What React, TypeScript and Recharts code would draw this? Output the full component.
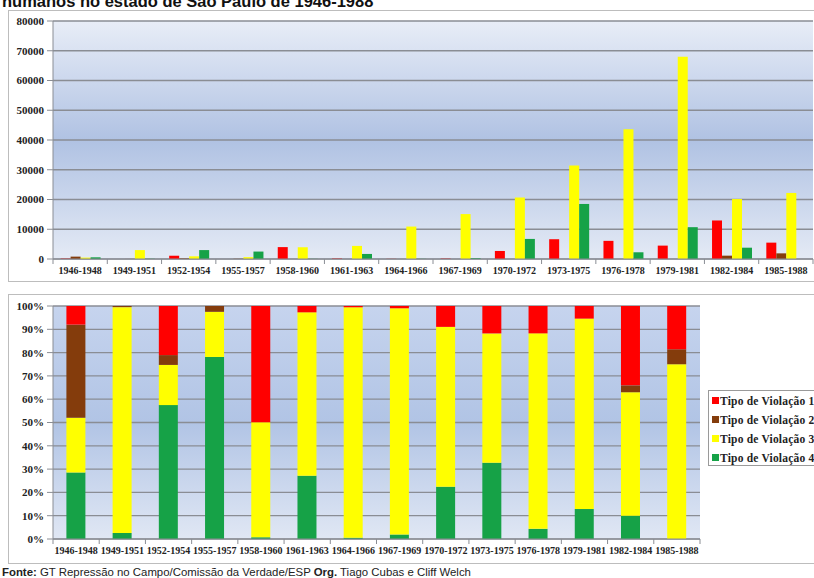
import React from 'react';
import { BarChart, Bar, XAxis, YAxis, CartesianGrid } from 'recharts';

const periods = [
  '1946-1948', '1949-1951', '1952-1954', '1955-1957', '1958-1960', '1961-1963', '1964-1966',
  '1967-1969', '1970-1972', '1973-1975', '1976-1978', '1979-1981', '1982-1984', '1985-1988'
];

// occurrences per type of violation
const tipo1 = [160, 0, 1100, 0, 4000, 170, 60, 150, 2700, 6650, 6100, 4500, 12950, 5500];
const tipo2 = [800, 15, 220, 80, 0, 0, 0, 0, 0, 0, 0, 0, 1120, 1900];
const tipo3 = [470, 3000, 900, 620, 3950, 4400, 10900, 15100, 20700, 31400, 43600, 68000, 20150, 22200];
const tipo4 = [570, 80, 3000, 2500, 60, 1700, 60, 300, 6750, 18500, 2260, 10700, 3800, 0];

const seriesKeys = ['t1', 't2', 't3', 't4'];
const seriesNames = ['Tipo de Violação 1', 'Tipo de Violação 2', 'Tipo de Violação 3', 'Tipo de Violação 4'];
const seriesColors = ['#ff0000', '#843c0c', '#ffff00', '#16a247'];

const countTicks = [0, 10000, 20000, 30000, 40000, 50000, 60000, 70000, 80000];
const pctTicks = [0, 0.1, 0.2, 0.3, 0.4, 0.5, 0.6, 0.7, 0.8, 0.9, 1];

const data = periods.map((p, i) => ({
  period: p,
  t1: tipo1[i],
  t2: tipo2[i],
  t3: tipo3[i],
  t4: tipo4[i]
}));

const SERIF = '"Liberation Serif", "Times New Roman", serif';
const SANS = '"Liberation Sans", Arial, sans-serif';
const AXIS = '#8a8d94';

const makeTick = (fallbackHalf: number) => (props: any) => {
  const { x, y, payload, index, visibleTicksCount } = props;
  const half = payload && payload.offset ? payload.offset : fallbackHalf;
  const last = index === visibleTicksCount - 1;
  return (
    <g>
      <line x1={x - half} x2={x - half} y1={y - 8} y2={y - 3} stroke={AXIS} />
      {last && <line x1={x + half} x2={x + half} y1={y - 8} y2={y - 3} stroke={AXIS} />}
      <text
        x={x}
        y={y}
        dy="0.71em"
        textAnchor="middle"
        fill="#222"
        fontFamily={SERIF}
        fontWeight="bold"
        fontSize={10}
      >
        {payload.value}
      </text>
    </g>
  );
};

const yTick = { fontFamily: SERIF, fontWeight: 'bold', fontSize: 11, fill: '#222' };

export default function App() {
  return (
    <div
      style={{
        position: 'absolute',
        left: 0,
        top: 0,
        width: 814,
        height: 578,
        overflow: 'hidden',
        background: '#fff'
      }}
    >
      <div
        style={{
          position: 'absolute',
          left: 2,
          top: -7,
          fontFamily: SANS,
          fontWeight: 'bold',
          fontSize: 16.5,
          lineHeight: 1,
          whiteSpace: 'nowrap',
          color: '#111'
        }}
      >
        humanos no estado de São Paulo de 1946-1988
      </div>

      {/* upper chart: absolute counts */}
      <div
        style={{
          position: 'absolute',
          left: 8,
          top: 10,
          width: 820,
          height: 272,
          border: '1px solid #bdbdbd',
          boxSizing: 'border-box'
        }}
      />
      <div style={{ position: 'absolute', left: 8, top: 10 }}>
        <BarChart
          width={806}
          height={273}
          data={data}
          margin={{ top: 11, right: 1, bottom: 0, left: 5 }}
          barCategoryGap="14%"
          barGap={0}
        >
          <defs>
            <linearGradient id="bgTop" x1="0" y1="0" x2="0" y2="1">
              <stop offset="0%" stopColor="#e8edf7" />
              <stop offset="50%" stopColor="#b0c2e3" />
              <stop offset="100%" stopColor="#e4eaf5" />
            </linearGradient>
          </defs>
          <CartesianGrid vertical={false} fill="url(#bgTop)" stroke={AXIS} strokeWidth={1.3} />
          <XAxis
            dataKey="period"
            interval={0}
            height={24}
            tickLine={false}
            tickSize={5}
            tickMargin={3}
            axisLine={{ stroke: AXIS }}
            tick={makeTick(760 / periods.length / 2)}
          />
          <YAxis
            width={40}
            domain={[0, 80000]}
            ticks={countTicks}
            interval={0}
            tickSize={6}
            tickMargin={3}
            axisLine={{ stroke: AXIS }}
            tickLine={{ stroke: AXIS }}
            tick={yTick}
          />
          {seriesKeys.map((k, i) => (
            <Bar key={k} dataKey={k} name={seriesNames[i]} fill={seriesColors[i]} isAnimationActive={false} />
          ))}
        </BarChart>
      </div>

      {/* lower chart: share per type */}
      <div
        style={{
          position: 'absolute',
          left: 8,
          top: 294,
          width: 820,
          height: 270,
          border: '1px solid #bdbdbd',
          boxSizing: 'border-box'
        }}
      />
      <div style={{ position: 'absolute', left: 8, top: 294 }}>
        <BarChart
          width={806}
          height={269}
          data={data}
          stackOffset="expand"
          margin={{ top: 12, right: 114, bottom: 0, left: 5 }}
          barCategoryGap="29%"
        >
          <defs>
            <linearGradient id="bgBottom" x1="0" y1="0" x2="0" y2="1">
              <stop offset="0%" stopColor="#c6d4ee" />
              <stop offset="50%" stopColor="#b1c4e5" />
              <stop offset="100%" stopColor="#e0e7f4" />
            </linearGradient>
          </defs>
          <CartesianGrid vertical={false} fill="url(#bgBottom)" stroke={AXIS} strokeWidth={1.3} />
          <XAxis
            dataKey="period"
            interval={0}
            height={24}
            tickLine={false}
            tickSize={5}
            tickMargin={3}
            axisLine={{ stroke: AXIS }}
            tick={makeTick(647 / periods.length / 2)}
          />
          <YAxis
            width={40}
            domain={[0, 1]}
            ticks={pctTicks}
            interval={0}
            tickSize={6}
            tickMargin={3}
            axisLine={{ stroke: AXIS }}
            tickLine={{ stroke: AXIS }}
            tick={yTick}
            tickFormatter={(v: number) => `${Math.round(v * 100)}%`}
          />
          {[3, 2, 1, 0].map((i) => (
            <Bar
              key={seriesKeys[i]}
              dataKey={seriesKeys[i]}
              name={seriesNames[i]}
              stackId="a"
              fill={seriesColors[i]}
              isAnimationActive={false}
            />
          ))}
        </BarChart>
      </div>

      <div
        style={{
          position: 'absolute',
          left: 708,
          top: 390,
          width: 130,
          height: 76,
          border: '1px solid #9a9a9a',
          boxSizing: 'border-box',
          background: '#fff',
          paddingTop: 0
        }}
      >
        {seriesNames.map((n, i) => (
          <div
            key={n}
            style={{
              display: 'flex',
              alignItems: 'center',
              height: 19,
              fontFamily: SERIF,
              fontWeight: 'bold',
              fontSize: 11.5,
              letterSpacing: 0.2,
              color: '#222',
              whiteSpace: 'nowrap'
            }}
          >
            <span
              style={{
                display: 'inline-block',
                width: 7,
                height: 7,
                marginLeft: 3,
                marginRight: 1,
                background: seriesColors[i]
              }}
            />
            {n}
          </div>
        ))}
      </div>

      <div
        style={{
          position: 'absolute',
          left: 2,
          top: 565,
          fontFamily: SANS,
          fontSize: 11.4,
          lineHeight: '14px',
          color: '#222',
          whiteSpace: 'nowrap'
        }}
      >
        <b>Fonte:</b> GT Repressão no Campo/Comissão da Verdade/ESP <b>Org.</b> Tiago Cubas e Cliff Welch
      </div>
    </div>
  );
}
